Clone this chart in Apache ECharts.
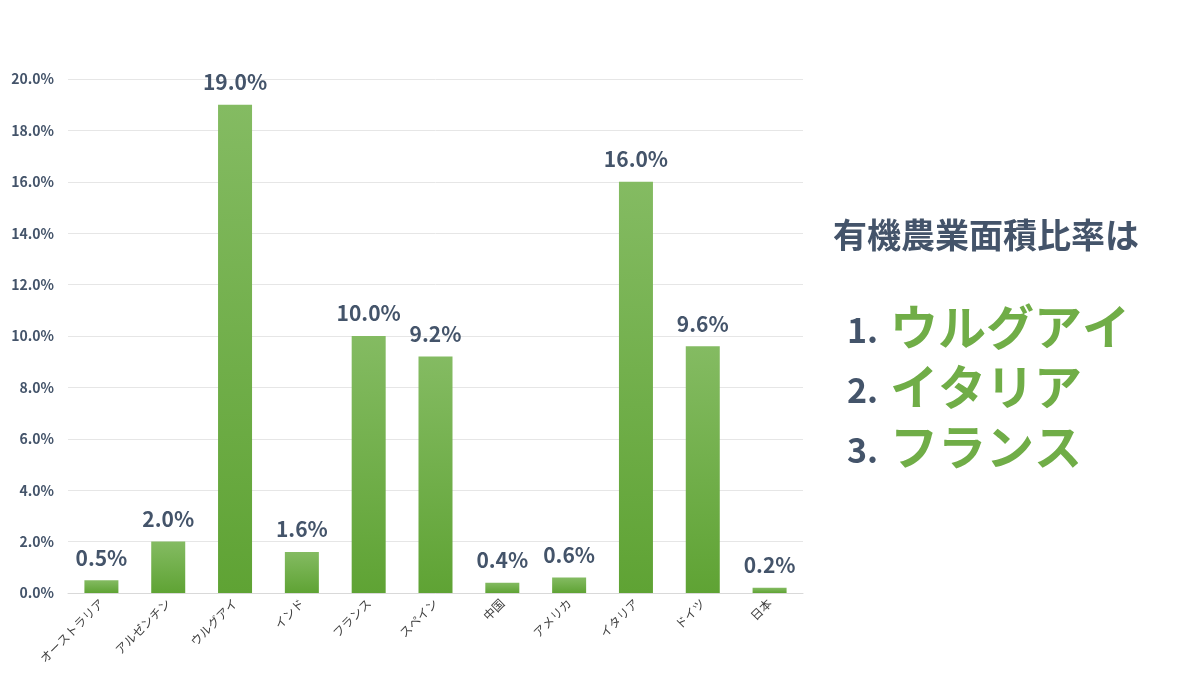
<!DOCTYPE html>
<html lang="ja">
<head>
    <meta charset="UTF-8">
    <title>有機農業面積比率</title>
    <script src="https://cdn.jsdelivr.net/npm/echarts@6/dist/echarts.min.js"></script>
    <style>
        html, body { margin: 0; padding: 0; background: #fff; }
        #chart { width: 1200px; height: 675px; }
    </style>
</head>
<body>
<div id="chart"></div>
<script>
    var countries = ['オーストラリア', 'アルゼンチン', 'ウルグアイ', 'インド', 'フランス', 'スペイン', '中国', 'アメリカ', 'イタリア', 'ドイツ', '日本'];
    var ratio = [0.5, 2.0, 19.0, 1.6, 10.0, 9.2, 0.4, 0.6, 16.0, 9.6, 0.2];
    var yTicks = [0, 2, 4, 6, 8, 10, 12, 14, 16, 18, 20];
    var ranking = ['ウルグアイ', 'イタリア', 'フランス'];

    var dark = '#44546a';
    var green = '#70ad47';
    var font = '"Noto Sans CJK JP", "Noto Sans", sans-serif';

    var chart = echarts.init(document.getElementById('chart'));

    var side = [{
        type: 'text',
        left: 833, top: 218,
        style: { text: '有機農業面積比率は', font: 'bold 34px ' + font, fill: dark }
    }];
    ranking.forEach(function (name, i) {
        var top = 303 + i * 60;
        side.push({
            type: 'text', left: 847, top: top + 10,
            style: { text: (i + 1) + '.', font: 'bold 34px ' + font, fill: dark }
        });
        side.push({
            type: 'text', left: 890, top: top,
            style: { text: name, font: 'bold 48px ' + font, fill: green }
        });
    });

    var option = {
        animation: false,
        textStyle: { fontFamily: font },
        grid: { left: 68, right: 397, top: 79, bottom: 82, containLabel: false },
        xAxis: {
            type: 'category',
            data: countries,
            axisTick: { show: false },
            axisLine: { lineStyle: { color: '#d9d9d9' } },
            axisLabel: { rotate: 45, fontSize: 12, color: '#404040', interval: 0, margin: 8 }
        },
        yAxis: {
            type: 'value',
            min: yTicks[0],
            max: yTicks[yTicks.length - 1],
            interval: 2,
            splitLine: { lineStyle: { color: '#e6e6e6' } },
            axisLabel: {
                fontSize: 14, fontWeight: 'bold', color: dark, margin: 14,
                formatter: function (v) { return v.toFixed(1) + '%'; }
            }
        },
        series: [{
            type: 'bar',
            data: ratio,
            barWidth: 34,
            itemStyle: {
                color: new echarts.graphic.LinearGradient(0, 0, 0, 1, [
                    { offset: 0, color: '#84bb62' },
                    { offset: 1, color: '#5fa334' }
                ])
            },
            label: {
                show: true, position: 'top', distance: 12,
                fontSize: 21, fontWeight: 'bold', color: dark,
                formatter: function (p) { return p.value.toFixed(1) + '%'; }
            }
        }],
        graphic: side
    };
    chart.setOption(option);
</script>
</body>
</html>
